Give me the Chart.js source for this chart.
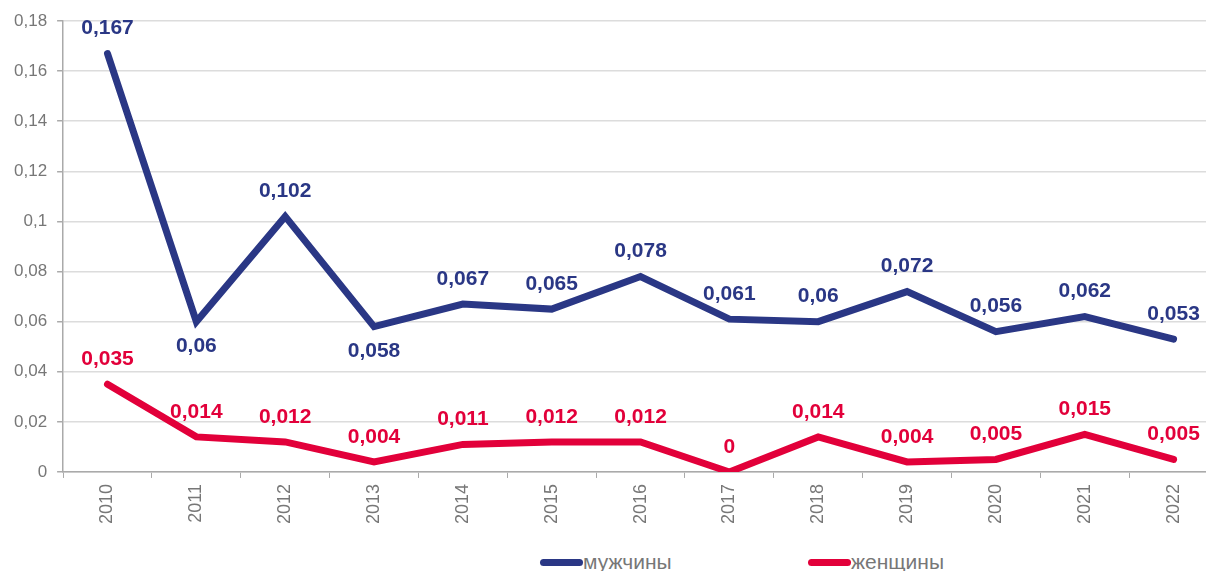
<!doctype html>
<html lang="ru">
<head>
<meta charset="utf-8">
<title>мужчины / женщины</title>
<script src="https://cdn.jsdelivr.net/npm/chart.js"></script>
<style>
  html, body { margin: 0; padding: 0; background: #fff; overflow: hidden; }
  #wrap { position: relative; width: 1218px; height: 530px; }
  #legend { position: absolute; top: 550px; left: 0; width: 1206px; height: 24px;
    font-family: "Liberation Sans", Arial, sans-serif; font-size: 21px; color: #777; }
  .item { position: absolute; top: 0; display: flex; align-items: center; }
  .bar { display: inline-block; width: 43px; height: 7px; border-radius: 4px; }
</style>
</head>
<body>
<div id="wrap"><canvas id="chart"></canvas></div>
<div id="legend">
  <div class="item" style="left:540px"><span class="bar" style="background:#2a3785"></span><span>мужчины</span></div>
  <div class="item" style="left:808px"><span class="bar" style="background:#e2003a"></span><span>женщины</span></div>
</div>
<script>
const years = ['2010', '2011', '2012', '2013', '2014', '2015', '2016', '2017', '2018', '2019', '2020', '2021', '2022']
const men = [0.167, 0.06, 0.102, 0.058, 0.067, 0.065, 0.078, 0.061, 0.06, 0.072, 0.056, 0.062, 0.053]
const women = [0.035, 0.014, 0.012, 0.004, 0.011, 0.012, 0.012, 0, 0.014, 0.004, 0.005, 0.015, 0.005]
const menBelow = [1, 3]

const fmt = (v) => String(Math.round(v * 1000) / 1000).replace('.', ',')

const valueLabels = {
  id: 'valueLabels',
  afterDatasetsDraw(chart) {
    const ctx = chart.ctx
    ctx.save()
    ctx.font = 'bold 21px "Liberation Sans", Arial, sans-serif'
    ctx.textAlign = 'center'
    ctx.textBaseline = 'middle'
    chart.data.datasets.forEach((ds, di) => {
      const meta = chart.getDatasetMeta(di)
      ctx.fillStyle = ds.borderColor
      meta.data.forEach((pt, i) => {
        const below = di === 0 && menBelow.includes(i)
        ctx.fillText(fmt(ds.data[i]), pt.x, pt.y + (below ? 25 : -25))
      })
    })
    ctx.restore()
  }
}

new Chart(document.getElementById('chart'), {
  type: 'line',
  data: {
    labels: years,
    datasets: [
      { label: 'мужчины', data: men, borderColor: '#2a3785', backgroundColor: '#2a3785',
        borderWidth: 7, pointRadius: 0, borderCapStyle: 'round', borderJoinStyle: 'miter', tension: 0 },
      { label: 'женщины', data: women, borderColor: '#e2003a', backgroundColor: '#e2003a',
        borderWidth: 7, pointRadius: 0, borderCapStyle: 'round', borderJoinStyle: 'miter', tension: 0 }
    ]
  },
  options: {
    responsive: true,
    maintainAspectRatio: false,
    animation: false,
    layout: { padding: { top: 21, left: 4, right: 0, bottom: 0 } },
    plugins: { legend: { display: false }, tooltip: { enabled: false } },
    scales: {
      x: {
        offset: true,
        grid: { display: true, drawOnChartArea: false, offset: true, color: '#aaa', tickLength: 6 },
        border: { color: '#aaa', width: 1.5 },
        ticks: { minRotation: 90, maxRotation: 90, color: '#777', padding: 6,
          font: { family: '"Liberation Sans", Arial, sans-serif', size: 18 } }
      },
      y: {
        min: 0,
        max: 0.18,
        grid: { color: '#dcdcdc', lineWidth: 1.5, tickLength: 6, tickColor: '#aaa' },
        border: { color: '#aaa', width: 1.5 },
        ticks: { stepSize: 0.02, color: '#777', padding: 10,
          font: { family: '"Liberation Sans", Arial, sans-serif', size: 17 },
          callback: (v) => fmt(Math.round(v * 100) / 100) }
      }
    }
  },
  plugins: [valueLabels]
})
</script>
</body>
</html>
